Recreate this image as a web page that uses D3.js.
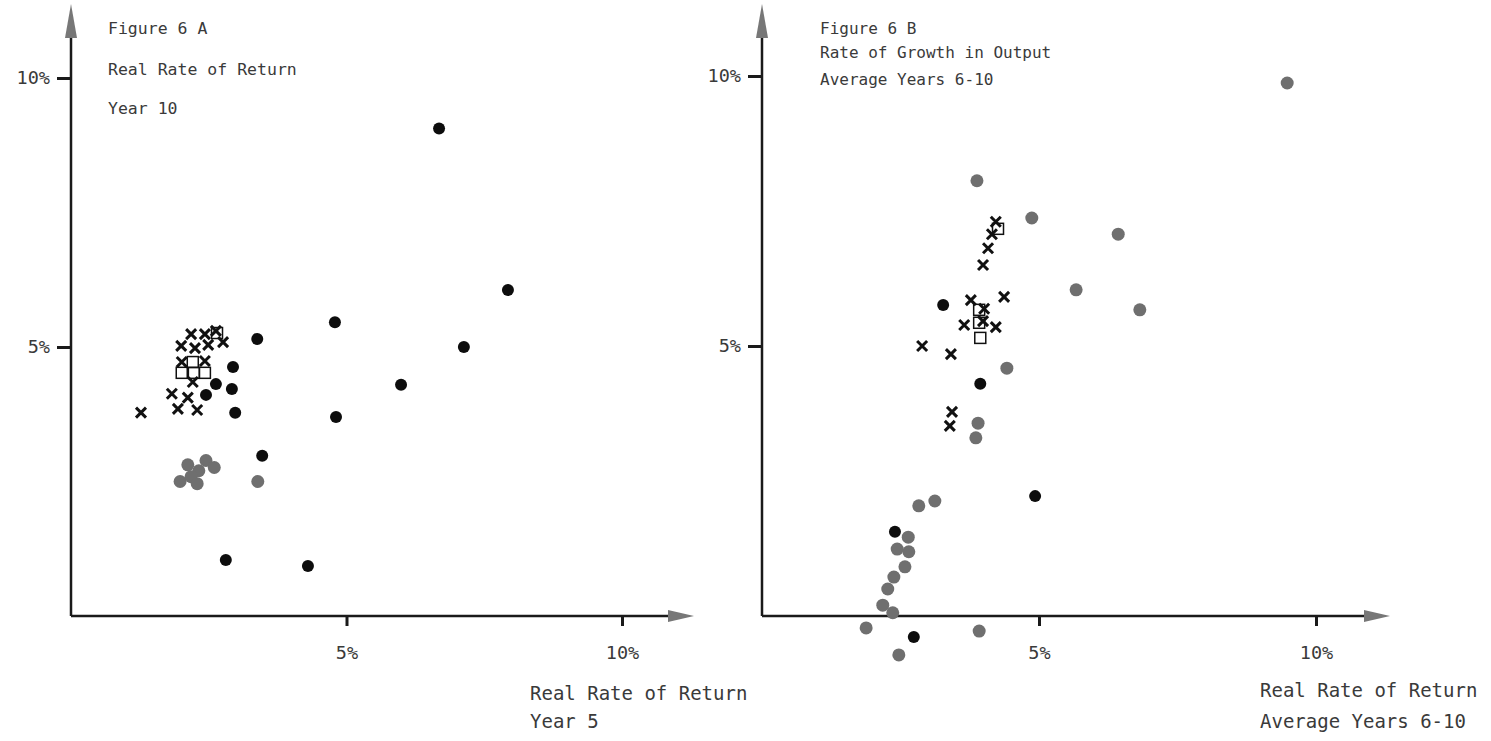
<!DOCTYPE html>
<html>
<head>
<meta charset="utf-8">
<script src="https://cdn.jsdelivr.net/npm/d3@7"></script>
<style>
  body { margin: 0; background: #fff; }
  text { font-family: "DejaVu Sans Mono", "Liberation Mono", monospace; fill: #3a3a3a; }
</style>
</head>
<body>
<div id="chart"></div>
<script>
// Figure 6 A : x = real rate of return yr 5, y = real rate of return yr 10 (percent)
const crossA = [[2.18,5.24],[2.43,5.24],[2.63,5.30],[2.00,5.02],[2.25,4.98],[2.49,5.04],[2.76,5.09],
  [2.01,4.72],[2.43,4.74],[2.21,4.35],[1.83,4.13],[2.12,4.06],[1.94,3.85],[2.29,3.83],[1.27,3.78]];
const squareA = [[2.01,4.52],[2.23,4.52],[2.43,4.52],[2.21,4.72],[2.65,5.26]];
const blackA = [[6.68,9.06],[7.93,6.06],[4.79,5.46],[3.38,5.15],[7.13,5.00],[2.94,4.63],[2.63,4.31],
  [2.92,4.22],[5.99,4.30],[2.45,4.11],[2.98,3.78],[4.81,3.70],[3.47,2.98],[2.81,1.04],[4.30,0.93]];
const grayA = [[1.98,2.50],[2.12,2.81],[2.45,2.89],[2.60,2.76],[2.32,2.70],[2.18,2.59],[2.29,2.46],[3.39,2.50]];

// Figure 6 B : x = real rate of return avg yrs 6-10, y = growth in output avg yrs 6-10
const crossB = [[4.22,7.30],[4.15,7.07],[4.08,6.81],[3.99,6.50],[3.77,5.85],[4.37,5.91],[4.01,5.69],
  [3.65,5.39],[3.99,5.46],[4.22,5.35],[2.89,5.00],[3.41,4.85],[3.43,3.78],[3.39,3.52]];
const squareB = [[4.26,7.17],[3.92,5.67],[3.92,5.43],[3.94,5.15]];
const blackB = [[3.27,5.76],[3.94,4.30],[4.93,2.22],[2.40,1.56],[2.74,-0.39]];
const grayB = [[9.48,9.87],[3.88,8.06],[4.87,7.37],[6.43,7.07],[5.67,6.04],[6.82,5.67],[4.42,4.59],
  [3.90,3.57],[3.86,3.30],[3.12,2.13],[2.83,2.04],[2.64,1.46],[2.44,1.24],[2.65,1.19],[2.58,0.91],
  [2.38,0.72],[2.27,0.50],[2.18,0.20],[2.36,0.06],[1.88,-0.22],[3.92,-0.28],[2.47,-0.72]];

const tickVals = [5, 10];
const titleA = ["Figure 6 A", "Real Rate of Return", "Year 10"];
const titleB = ["Figure 6 B", "Rate of Growth in Output", "Average Years 6-10"];
const xLabelA = ["Real Rate of Return", "Year 5"];
const xLabelB = ["Real Rate of Return", "Average Years 6-10"];

const W = 1491, H = 741;
const svg = d3.select("#chart").append("svg")
    .attr("width", W)
    .attr("height", H);

function panel(cfg) {
  const x = d3.scaleLinear().domain([0, 10]).range(cfg.xr);
  const y = d3.scaleLinear().domain([0, 10]).range(cfg.yr);
  const g = svg.append("g");

  // axis lines
  g.append("line")
    .attr("x1", x(0)).attr("y1", y(0)).attr("x2", x(0)).attr("y2", cfg.yTop + 20)
    .attr("stroke", "#1a1a1a").attr("stroke-width", 2.5);
  g.append("line")
    .attr("x1", x(0)).attr("y1", y(0)).attr("x2", cfg.xEnd - 20).attr("y2", y(0))
    .attr("stroke", "#1a1a1a").attr("stroke-width", 2.5);

  // arrow heads
  const x0 = x(0), y0 = y(0);
  g.append("path")
    .attr("d", `M${x0},${cfg.yTop} L${x0 - 6},${cfg.yTop + 34} L${x0 + 6},${cfg.yTop + 34} Z`)
    .attr("fill", "#777");
  g.append("path")
    .attr("d", `M${cfg.xEnd},${y0} L${cfg.xEnd - 26},${y0 - 6} L${cfg.xEnd - 26},${y0 + 6} Z`)
    .attr("fill", "#777");

  const xAxis = d3.axisBottom(x)
    .tickValues(tickVals)
    .tickSize(10)
    .tickPadding(20)
    .tickFormat(d => d + "%");
  const gx = g.append("g")
    .attr("transform", `translate(0, ${y0})`)
    .call(xAxis);
  gx.select(".domain").remove();
  gx.selectAll("line").attr("stroke", "#1a1a1a").attr("stroke-width", 3);
  gx.selectAll("text").attr("font-size", 18.5).attr("font-family", null).attr("fill", "#3a3a3a");

  const yAxis = d3.axisLeft(y)
    .tickValues(tickVals)
    .tickSize(14)
    .tickPadding(7)
    .tickFormat(d => d + "%");
  const gy = g.append("g")
    .attr("transform", `translate(${x0}, 0)`)
    .call(yAxis);
  gy.select(".domain").remove();
  gy.selectAll("line").attr("stroke", "#1a1a1a").attr("stroke-width", 3);
  gy.selectAll("text").attr("font-size", 18.5).attr("font-family", null)
    .attr("fill", cfg.yLabelColor);

  // titles
  g.selectAll("text.title")
    .data(cfg.title)
    .join("text")
    .attr("class", "title")
    .attr("x", cfg.titleX)
    .attr("y", (d, i) => cfg.titleY[i])
    .attr("font-size", cfg.titleSize)
    .text(d => d);

  g.selectAll("text.xlab")
    .data(cfg.xLabel)
    .join("text")
    .attr("class", "xlab")
    .attr("x", cfg.xLabX)
    .attr("y", (d, i) => cfg.xLabY[i])
    .attr("font-size", 19)
    .text(d => d);

  // markers
  g.selectAll("circle.gray")
    .data(cfg.gray)
    .join("circle")
    .attr("class", "gray")
    .attr("cx", d => x(d[0]))
    .attr("cy", d => y(d[1]))
    .attr("r", 6.5)
    .attr("fill", "#6f6f6f");

  g.selectAll("circle.black")
    .data(cfg.black)
    .join("circle")
    .attr("class", "black")
    .attr("cx", d => x(d[0]))
    .attr("cy", d => y(d[1]))
    .attr("r", 6)
    .attr("fill", "#0d0d0d");

  g.selectAll("rect.sq")
    .data(cfg.square)
    .join("rect")
    .attr("class", "sq")
    .attr("x", d => x(d[0]) - 5.5)
    .attr("y", d => y(d[1]) - 5.5)
    .attr("width", 11)
    .attr("height", 11)
    .attr("fill", "none")
    .attr("stroke", "#111")
    .attr("stroke-width", 1.5);

  const s = 5;
  g.selectAll("path.cross")
    .data(cfg.cross)
    .join("path")
    .attr("class", "cross")
    .attr("d", d => {
      const cx = x(d[0]), cy = y(d[1]);
      return `M${cx - s},${cy - s}L${cx + s},${cy + s}M${cx - s},${cy + s}L${cx + s},${cy - s}`;
    })
    .attr("stroke", "#111")
    .attr("stroke-width", 3);
}

panel({
  xr: [71, 622], yr: [616, 78], yTop: 4, xEnd: 694,
  title: titleA, titleX: 108, titleY: [34, 75, 114], titleSize: 16.5,
  xLabel: xLabelA, xLabX: 530, xLabY: [700, 728],
  yLabelColor: "#c4c4c4",
  cross: crossA, square: squareA, black: blackA, gray: grayA
});

panel({
  xr: [762, 1316], yr: [616, 76], yTop: 4, xEnd: 1390,
  title: titleB, titleX: 820, titleY: [34, 58, 85], titleSize: 16,
  xLabel: xLabelB, xLabX: 1260, xLabY: [697, 728],
  yLabelColor: "#3a3a3a",
  cross: crossB, square: squareB, black: blackB, gray: grayB
});
</script>
</body>
</html>
